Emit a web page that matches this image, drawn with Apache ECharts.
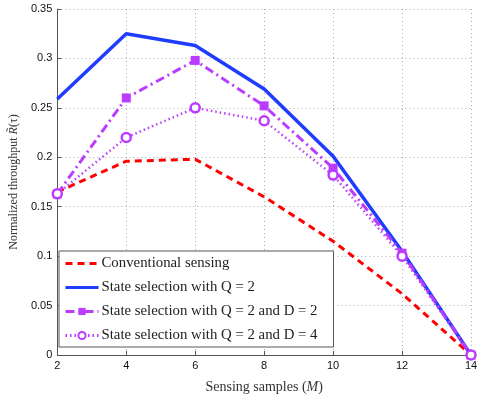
<!DOCTYPE html>
<html><head><meta charset="utf-8">
<script src="https://cdn.jsdelivr.net/npm/echarts@6/dist/echarts.min.js"></script>
<style>html,body{margin:0;padding:0;background:#fff}#c{width:485px;height:399px}</style>
</head><body><div id="c"></div>
<script>
const samples = [2, 4, 6, 8, 10, 12, 14];
const conventional = [0.165, 0.196, 0.198, 0.160, 0.115, 0.062, 0];
const stateQ2 = [0.259, 0.325, 0.313, 0.269, 0.201, 0.105, 0];
const stateQ2D2 = [0.163, 0.260, 0.298, 0.252, 0.189, 0.103, 0];
const stateQ2D4 = [0.163, 0.220, 0.250, 0.237, 0.182, 0.100, 0];
const seriesNames = ['Conventional sensing', 'State selection with Q = 2', 'State selection with Q = 2 and D = 2', 'State selection with Q = 2 and D = 4'];

const pts = arr => samples.map((s, i) => [s, arr[i]]);
const RED = '#ff0000', BLUE = '#1f3cff', MAG = '#bb3cff';
const serif = 'Liberation Serif';
const chart = echarts.init(document.getElementById('c'), null, {renderer: 'canvas'});
chart.setOption({
  animation: false,
  grid: {left: 50, right: 14, top: 9, bottom: 40},
  xAxis: {
    type: 'value', min: 2, max: 14, interval: 2,
    name: 'Sensing samples ({i|M})', nameLocation: 'middle', nameGap: 25,
    nameTextStyle: {fontFamily: serif, fontSize: 14, color: '#333', rich: {i: {fontFamily: serif, fontStyle: 'italic', fontSize: 14, color: '#333'}}},
    axisLine: {lineStyle: {color: '#555', width: 1}},
    axisTick: {inside: true, length: 4, lineStyle: {color: '#555'}},
    axisLabel: {fontFamily: 'Liberation Sans', fontSize: 11, color: '#111', margin: 5},
    splitLine: {show: true, lineStyle: {type: [1, 3], color: '#aaa', width: 1}}
  },
  yAxis: {
    type: 'value', min: 0, max: 0.35, interval: 0.05,
    name: 'Normalized throughput {i|R̃}(τ)', nameLocation: 'middle', nameGap: 35,
    nameTextStyle: {fontFamily: serif, fontSize: 12, color: '#333', rich: {i: {fontFamily: serif, fontStyle: 'italic', fontSize: 12, color: '#333'}}},
    axisLine: {show: true, lineStyle: {color: '#555', width: 1}},
    axisTick: {show: true, inside: true, length: 4, lineStyle: {color: '#555'}},
    axisLabel: {fontFamily: 'Liberation Sans', fontSize: 11, color: '#111', margin: 5},
    splitLine: {show: true, lineStyle: {type: [1, 3], color: '#aaa', width: 1}}
  },
  legend: {
    orient: 'vertical', left: 59, top: 251,
    backgroundColor: '#fff', borderColor: '#555', borderWidth: 1,
    padding: [5, 16, 4, 5], itemGap: 9, itemWidth: 33, itemHeight: 9,
    lineStyle: {width: 3},
    textStyle: {fontFamily: serif, fontSize: 14.8, color: '#222', padding: [0, 0, 0, -2]},
    data: [
      {name: seriesNames[0], itemStyle: {opacity: 0}},
      {name: seriesNames[1], itemStyle: {opacity: 0}},
      {name: seriesNames[2]},
      {name: seriesNames[3]}
    ]
  },
  series: [
    {name: seriesNames[0], type: 'line', data: pts(conventional), symbol: 'none', color: RED,
     lineStyle: {color: RED, width: 3, type: [7, 5]}},
    {name: seriesNames[1], type: 'line', data: pts(stateQ2), symbol: 'none', color: BLUE,
     lineStyle: {color: BLUE, width: 3.5}},
    {name: seriesNames[2], type: 'line', data: pts(stateQ2D2), symbol: 'rect', symbolSize: 9, color: MAG,
     itemStyle: {color: MAG}, lineStyle: {color: MAG, width: 3, type: [9, 4, 2, 4]}},
    {name: seriesNames[3], type: 'line', data: pts(stateQ2D4), symbol: 'circle', symbolSize: 9, color: MAG,
     itemStyle: {color: '#fff', borderColor: MAG, borderWidth: 2.5}, lineStyle: {color: MAG, width: 2.5, type: [1.5, 3]}}
  ]
});
</script></body></html>
